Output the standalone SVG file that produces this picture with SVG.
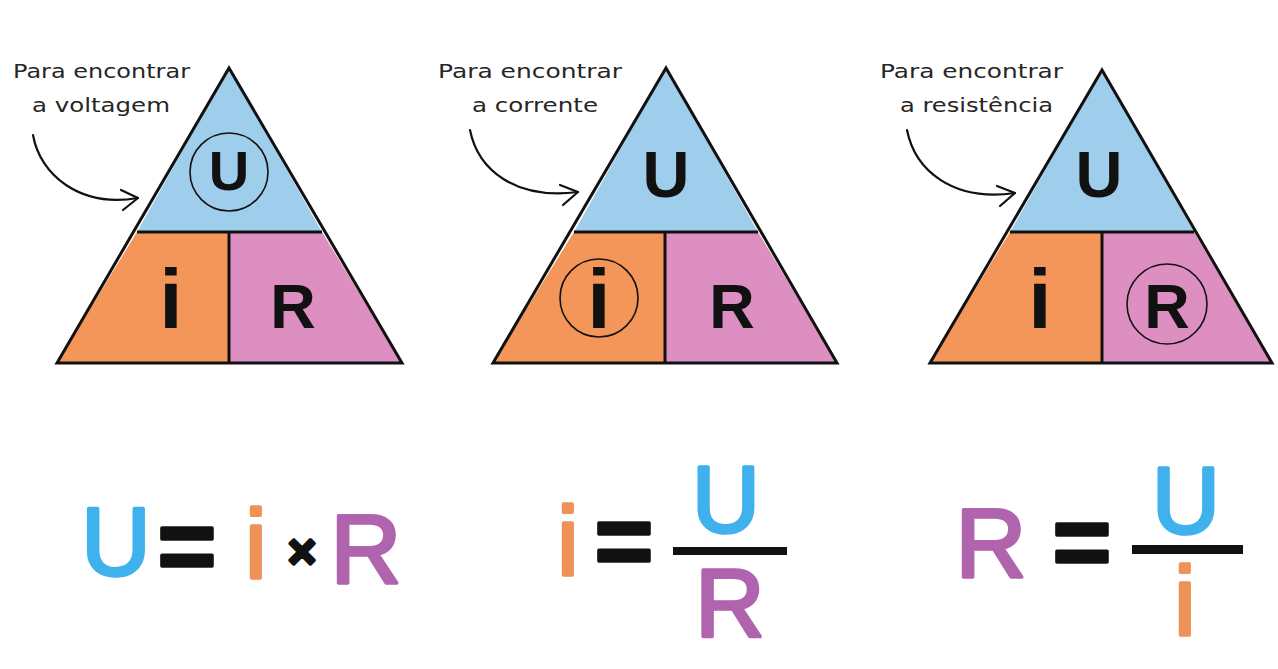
<svg xmlns="http://www.w3.org/2000/svg" width="1278" height="669" viewBox="0 0 1278 669">
<style>
.blue{fill:#9fcdec}
.orange{fill:#f4965a}
.pink{fill:#dd8fc2}
.edge{fill:none;stroke:#111;stroke-width:3;stroke-linejoin:miter}
.div{stroke:#111;stroke-width:3}
.ring{fill:none;stroke:#111;stroke-width:1.6}
.lbl{font-family:"DejaVu Sans","Liberation Sans",sans-serif;font-size:20px;fill:#262626}
.big{font-family:"Liberation Sans",Arial,sans-serif;font-weight:bold;fill:#111;text-anchor:middle}
.f{font-family:"Liberation Sans",Arial,sans-serif;text-anchor:middle;stroke-width:3.5;stroke-linejoin:round;stroke-linecap:round}
.fb{fill:#3fb1ec;stroke:#3fb1ec}
.fo{fill:#ee9257;stroke:#ee9257}
.fp{fill:#b064ad;stroke:#b064ad}
.fk{fill:#111;stroke:#111;font-weight:bold}
.arr{fill:none;stroke:#111;stroke-width:2.2;stroke-linecap:round;stroke-linejoin:round}
</style>

<g id="triangle-voltagem">
<polygon class="blue" points="229,68 137,232 322,232"/>
<polygon class="orange" points="137,232 229,232 229,363 57,363"/>
<polygon class="pink" points="229,232 322,232 402,363 229,363"/>
<polygon class="edge" points="229,68 402,363 57,363"/>
<line class="div" x1="137" y1="232" x2="322" y2="232"/>
<line class="div" x1="229" y1="232" x2="229" y2="363"/>
<circle class="ring" cx="229" cy="172" r="39"/>
<text class="big" x="229" y="190" font-size="56">U</text>
<text class="big" x="171" y="328" font-size="84">i</text>
<text class="big" x="293" y="328" font-size="63">R</text>
<text class="lbl" x="13" y="78" textLength="177" lengthAdjust="spacingAndGlyphs">Para encontrar</text>
<text class="lbl" x="32" y="112" textLength="138" lengthAdjust="spacingAndGlyphs">a voltagem</text>
</g>

<g id="triangle-corrente">
<polygon class="blue" points="666,68 574,232 758,232"/>
<polygon class="orange" points="574,232 665,232 665,363 493,363"/>
<polygon class="pink" points="665,232 758,232 837,363 665,363"/>
<polygon class="edge" points="666,68 837,363 493,363"/>
<line class="div" x1="574" y1="232" x2="758" y2="232"/>
<line class="div" x1="665" y1="232" x2="665" y2="363"/>
<circle class="ring" cx="599" cy="298" r="39"/>
<text class="big" x="666" y="197" font-size="65">U</text>
<text class="big" x="599" y="328" font-size="84">i</text>
<text class="big" x="732" y="328" font-size="63">R</text>
<text class="lbl" x="438" y="78" textLength="184" lengthAdjust="spacingAndGlyphs">Para encontrar</text>
<text class="lbl" x="472" y="112" textLength="126" lengthAdjust="spacingAndGlyphs">a corrente</text>
</g>

<g id="triangle-resistencia">
<polygon class="blue" points="1102,70 1010,232 1194,232"/>
<polygon class="orange" points="1010,232 1102,232 1102,363 930,363"/>
<polygon class="pink" points="1102,232 1194,232 1272,363 1102,363"/>
<polygon class="edge" points="1102,70 1272,363 930,363"/>
<line class="div" x1="1010" y1="232" x2="1194" y2="232"/>
<line class="div" x1="1102" y1="232" x2="1102" y2="363"/>
<circle class="ring" cx="1167" cy="304" r="40"/>
<text class="big" x="1099" y="197" font-size="65">U</text>
<text class="big" x="1040" y="328" font-size="84">i</text>
<text class="big" x="1167" y="328" font-size="63">R</text>
<text class="lbl" x="880" y="78" textLength="183" lengthAdjust="spacingAndGlyphs">Para encontrar</text>
<text class="lbl" x="900" y="112" textLength="153" lengthAdjust="spacingAndGlyphs">a resistência</text>
</g>

<g id="connectors">
<path class="arr" d="M33,135 C40,175 80,208 138,198"/>
<path class="arr" d="M121,190 L138,198 L123,210"/>
<path class="arr" d="M470,130 C478,170 515,200 578,192"/>
<path class="arr" d="M560,185 L578,192 L563,205"/>
<path class="arr" d="M907,130 C915,170 952,202 1015,193"/>
<path class="arr" d="M997,186 L1015,193 L1000,206"/>
</g>

<g id="formula-voltagem">
<text class="f fb" x="116" y="575" font-size="96">U</text>
<text class="f fk" x="187" y="580" font-size="100" stroke-width="3">=</text>
<text class="f fo" x="256" y="578" font-size="98">i</text>
<text class="f fk" x="302" y="568" font-size="48" stroke-width="2">×</text>
<text class="f fp" x="366" y="583" font-size="98">R</text>
</g>

<g id="formula-corrente">
<text class="f fo" x="568" y="575" font-size="98">i</text>
<text class="f fk" x="624" y="575" font-size="100" stroke-width="3">=</text>
<rect x="673" y="547" width="114" height="8" fill="#111"/>
<text class="f fb" x="726" y="532" font-size="94">U</text>
<text class="f fp" x="730" y="637" font-size="96">R</text>
</g>

<g id="formula-resistencia">
<text class="f fp" x="991" y="577" font-size="98">R</text>
<text class="f fk" x="1082" y="576" font-size="100" stroke-width="3">=</text>
<rect x="1132" y="545" width="111" height="9" fill="#111"/>
<text class="f fb" x="1186" y="533" font-size="94">U</text>
<text class="f fo" x="1185" y="635" font-size="98">i</text>
</g>
</svg>
